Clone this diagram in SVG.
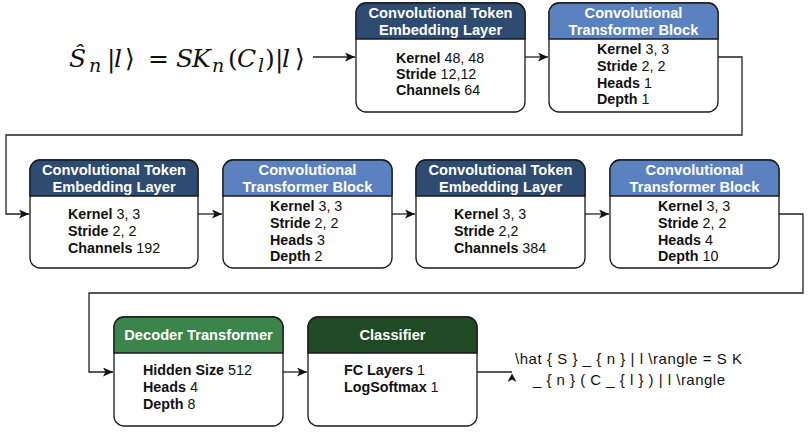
<svg xmlns="http://www.w3.org/2000/svg" width="812" height="432" viewBox="0 0 812 432">
<defs>
<style>
.box{fill:#ffffff;stroke:#1a1a1a;stroke-width:1.3}
.hd{stroke:#1a1a1a;stroke-width:1.3}
.navy{fill:#2e4b72}.blue{fill:#5b82c0}.green{fill:#3b854a}.dgreen{fill:#1f4a23}
.ht{font-family:"Liberation Sans",Arial,sans-serif;font-weight:bold;font-size:14.7px;fill:#ffffff;text-anchor:middle}
.bt{font-family:"Liberation Sans",Arial,sans-serif;font-size:14.3px;fill:#111111}
.b{font-weight:bold}
.edge{fill:none;stroke:#222222;stroke-width:1.3}
.math{font-family:"DejaVu Serif","Liberation Serif",serif;font-size:25px;fill:#111111}
.it{font-style:italic}
.sub{font-style:italic;font-size:19px}
.lbl{font-family:"Liberation Sans",Arial,sans-serif;font-size:15px;fill:#111111;text-anchor:middle}
</style>
<marker id="arr" markerUnits="userSpaceOnUse" markerWidth="11" markerHeight="9" refX="10" refY="4.5" orient="auto">
<path d="M0,0 L10,4.5 L0,9 L2.5,4.5 Z" fill="#111111"/>
</marker>
</defs>

<g id="connectors">
<path class="edge" d="M313,57 H355" marker-end="url(#arr)"/>
<path class="edge" d="M525,57 H548" marker-end="url(#arr)"/>
<path class="edge" d="M718,57 H742 V135 H6 V214 H29" marker-end="url(#arr)"/>
<path class="edge" d="M198,214 H222" marker-end="url(#arr)"/>
<path class="edge" d="M392,214 H415" marker-end="url(#arr)"/>
<path class="edge" d="M585,214 H609" marker-end="url(#arr)"/>
<path class="edge" d="M779,214 H803 V293 H89 V372 H113" marker-end="url(#arr)"/>
<path class="edge" d="M283,372 H307" marker-end="url(#arr)"/>
<path class="edge" d="M477,372 H512"/>
<path d="M512,373.5 L516.5,382 L512,379.5 L507.5,382 Z" fill="#111111"/>
</g>

<g id="input">
<text class="math" y="67"><tspan class="it" x="69">Ŝ</tspan><tspan class="sub" x="89" dy="5">n</tspan><tspan x="107" dy="-5">|</tspan><tspan class="it" x="114">l</tspan><tspan x="125">⟩</tspan><tspan x="148">=</tspan><tspan class="it" x="176">S</tspan><tspan class="it" x="192">K</tspan><tspan class="sub" x="212" dy="5">n</tspan><tspan x="228" dy="-5">(</tspan><tspan class="it" x="237">C</tspan><tspan class="sub" x="258" dy="5">l</tspan><tspan x="265" dy="-5">)</tspan><tspan x="275">|</tspan><tspan class="it" x="282">l</tspan><tspan x="295">⟩</tspan></text>
</g>

<g id="cte1">
<rect class="box" x="356" y="3" width="169" height="109" rx="10"/>
<path class="hd navy" d="M356,39 V13 A10,10 0 0 1 366,3 H515 A10,10 0 0 1 525,13 V39 Z"/>
<text class="ht" x="440.5" y="17.5">Convolutional Token</text>
<text class="ht" x="440.5" y="34.5">Embedding Layer</text>
<text class="bt" x="396" y="63"><tspan class="b">Kernel</tspan> 48, 48</text>
<text class="bt" x="396" y="79"><tspan class="b">Stride</tspan> 12,12</text>
<text class="bt" x="396" y="95"><tspan class="b">Channels</tspan> 64</text>
</g>

<g id="ctb1">
<rect class="box" x="549" y="3" width="169" height="109" rx="10"/>
<path class="hd blue" d="M549,39 V13 A10,10 0 0 1 559,3 H708 A10,10 0 0 1 718,13 V39 Z"/>
<text class="ht" x="633.5" y="17.5">Convolutional</text>
<text class="ht" x="633.5" y="34.5">Transformer Block</text>
<text class="bt" x="597" y="54"><tspan class="b">Kernel</tspan> 3, 3</text>
<text class="bt" x="597" y="71"><tspan class="b">Stride</tspan> 2, 2</text>
<text class="bt" x="597" y="88"><tspan class="b">Heads</tspan> 1</text>
<text class="bt" x="597" y="104"><tspan class="b">Depth</tspan> 1</text>
</g>

<g id="cte2">
<rect class="box" x="30" y="160" width="168" height="108" rx="10"/>
<path class="hd navy" d="M30,196 V170 A10,10 0 0 1 40,160 H188 A10,10 0 0 1 198,170 V196 Z"/>
<text class="ht" x="114" y="174.5">Convolutional Token</text>
<text class="ht" x="114" y="191.5">Embedding Layer</text>
<text class="bt" x="68" y="219"><tspan class="b">Kernel</tspan> 3, 3</text>
<text class="bt" x="68" y="236"><tspan class="b">Stride</tspan> 2, 2</text>
<text class="bt" x="68" y="253"><tspan class="b">Channels</tspan> 192</text>
</g>

<g id="ctb2">
<rect class="box" x="223" y="160" width="169" height="108" rx="10"/>
<path class="hd blue" d="M223,196 V170 A10,10 0 0 1 233,160 H382 A10,10 0 0 1 392,170 V196 Z"/>
<text class="ht" x="307.5" y="174.5">Convolutional</text>
<text class="ht" x="307.5" y="191.5">Transformer Block</text>
<text class="bt" x="270" y="211"><tspan class="b">Kernel</tspan> 3, 3</text>
<text class="bt" x="270" y="228"><tspan class="b">Stride</tspan> 2, 2</text>
<text class="bt" x="270" y="245"><tspan class="b">Heads</tspan> 3</text>
<text class="bt" x="270" y="261"><tspan class="b">Depth</tspan> 2</text>
</g>

<g id="cte3">
<rect class="box" x="416" y="160" width="169" height="108" rx="10"/>
<path class="hd navy" d="M416,196 V170 A10,10 0 0 1 426,160 H575 A10,10 0 0 1 585,170 V196 Z"/>
<text class="ht" x="500.5" y="174.5">Convolutional Token</text>
<text class="ht" x="500.5" y="191.5">Embedding Layer</text>
<text class="bt" x="454" y="219"><tspan class="b">Kernel</tspan> 3, 3</text>
<text class="bt" x="454" y="236"><tspan class="b">Stride</tspan> 2,2</text>
<text class="bt" x="454" y="253"><tspan class="b">Channels</tspan> 384</text>
</g>

<g id="ctb3">
<rect class="box" x="610" y="160" width="169" height="108" rx="10"/>
<path class="hd blue" d="M610,196 V170 A10,10 0 0 1 620,160 H769 A10,10 0 0 1 779,170 V196 Z"/>
<text class="ht" x="694.5" y="174.5">Convolutional</text>
<text class="ht" x="694.5" y="191.5">Transformer Block</text>
<text class="bt" x="658" y="211"><tspan class="b">Kernel</tspan> 3, 3</text>
<text class="bt" x="658" y="228"><tspan class="b">Stride</tspan> 2, 2</text>
<text class="bt" x="658" y="245"><tspan class="b">Heads</tspan> 4</text>
<text class="bt" x="658" y="261"><tspan class="b">Depth</tspan> 10</text>
</g>

<g id="decoder">
<rect class="box" x="114" y="317" width="169" height="109" rx="10"/>
<path class="hd green" d="M114,353 V327 A10,10 0 0 1 124,317 H273 A10,10 0 0 1 283,327 V353 Z"/>
<text class="ht" x="198.5" y="340">Decoder Transformer</text>
<text class="bt" x="143" y="375"><tspan class="b">Hidden Size</tspan> 512</text>
<text class="bt" x="143" y="392"><tspan class="b">Heads</tspan> 4</text>
<text class="bt" x="143" y="409"><tspan class="b">Depth</tspan> 8</text>
</g>

<g id="classifier">
<rect class="box" x="308" y="317" width="169" height="109" rx="10"/>
<path class="hd dgreen" d="M308,353 V327 A10,10 0 0 1 318,317 H467 A10,10 0 0 1 477,327 V353 Z"/>
<text class="ht" x="392.5" y="340">Classifier</text>
<text class="bt" x="344" y="375"><tspan class="b">FC Layers</tspan> 1</text>
<text class="bt" x="344" y="392"><tspan class="b">LogSoftmax</tspan> 1</text>
</g>

<g id="output">
<text class="lbl" x="628.5" y="364" textLength="227" lengthAdjust="spacing">\hat { S } _ { n } | l \rangle = S K</text>
<text class="lbl" x="629" y="385" textLength="192" lengthAdjust="spacing">_ { n } ( C _ { l } ) | l \rangle</text>
</g>
</svg>
